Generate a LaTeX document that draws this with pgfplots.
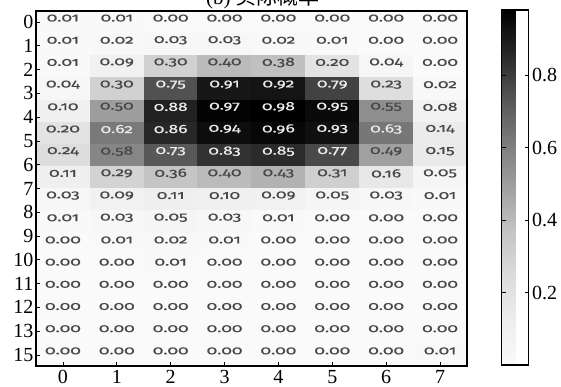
\documentclass[border=0pt]{standalone}
\usepackage{pgfplots}
\pgfplotsset{compat=1.18}
\usepackage{pgfplotstable}
\usepackage{fontspec}
\setmainfont{Liberation Serif}
\newfontfamily\cellfont[Numbers=OldStyle,FakeStretch=1.45,FakeBold=0.4]{Fira Sans}
\newfontfamily\cjk{Noto Sans CJK SC}
\pgfkeys{/pgf/number format/assume math mode=true}
\pgfplotsset{colormap={mygreys}{rgb255=(250,250,250) rgb255=(238,238,238) rgb255=(220,220,220) rgb255=(196,196,196) rgb255=(160,160,160) rgb255=(124,124,124) rgb255=(86,86,86) rgb255=(40,40,40) rgb255=(0,0,0)}}
\pgfplotstableread{
x y v
0 0 0.01
1 0 0.01
2 0 0.00
3 0 0.00
4 0 0.00
5 0 0.00
6 0 0.00
7 0 0.00
0 1 0.01
1 1 0.02
2 1 0.03
3 1 0.03
4 1 0.02
5 1 0.01
6 1 0.00
7 1 0.00
0 2 0.01
1 2 0.09
2 2 0.30
3 2 0.40
4 2 0.38
5 2 0.20
6 2 0.04
7 2 0.00
0 3 0.04
1 3 0.30
2 3 0.75
3 3 0.91
4 3 0.92
5 3 0.79
6 3 0.23
7 3 0.02
0 4 0.10
1 4 0.50
2 4 0.88
3 4 0.97
4 4 0.98
5 4 0.95
6 4 0.55
7 4 0.08
0 5 0.20
1 5 0.62
2 5 0.86
3 5 0.94
4 5 0.96
5 5 0.93
6 5 0.63
7 5 0.14
0 6 0.24
1 6 0.58
2 6 0.73
3 6 0.83
4 6 0.85
5 6 0.77
6 6 0.49
7 6 0.15
0 7 0.11
1 7 0.29
2 7 0.36
3 7 0.40
4 7 0.43
5 7 0.31
6 7 0.16
7 7 0.05
0 8 0.03
1 8 0.09
2 8 0.11
3 8 0.10
4 8 0.09
5 8 0.05
6 8 0.03
7 8 0.01
0 9 0.01
1 9 0.03
2 9 0.05
3 9 0.03
4 9 0.01
5 9 0.00
6 9 0.00
7 9 0.00
0 10 0.00
1 10 0.01
2 10 0.02
3 10 0.01
4 10 0.00
5 10 0.00
6 10 0.00
7 10 0.00
0 11 0.00
1 11 0.00
2 11 0.01
3 11 0.00
4 11 0.00
5 11 0.00
6 11 0.00
7 11 0.00
0 12 0.00
1 12 0.00
2 12 0.00
3 12 0.00
4 12 0.00
5 12 0.00
6 12 0.00
7 12 0.00
0 13 0.00
1 13 0.00
2 13 0.00
3 13 0.00
4 13 0.00
5 13 0.00
6 13 0.00
7 13 0.00
0 14 0.00
1 14 0.00
2 14 0.00
3 14 0.00
4 14 0.00
5 14 0.00
6 14 0.00
7 14 0.00
0 15 0.00
1 15 0.00
2 15 0.00
3 15 0.00
4 15 0.00
5 15 0.00
6 15 0.00
7 15 0.01
}\hm
\begin{document}
\begin{tikzpicture}
\useasboundingbox (-36pt,-21pt) rectangle (525pt,366pt);
\begin{axis}[
  at={(0pt,0pt)}, anchor=south west,
  scale only axis, width=431pt, height=355pt,
  xmin=-0.5, xmax=7.5, ymin=-0.5, ymax=15.5, y dir=reverse,
  enlargelimits=false, axis on top,
  xtick={0,...,7},
  ytick={0,1.0714,2.1429,3.2143,4.2857,5.3571,6.4286,7.5,8.5714,9.6429,10.7143,11.7857,12.8571,13.9286,15},
  yticklabels={0,1,2,3,4,5,6,7,8,9,10,11,12,13,15},
  xtick pos=bottom, ytick pos=left, tick align=inside,
  major tick length=4pt,
  every tick/.style={black, line width=0.8pt},
  axis line style={line width=1.3pt},
  tick label style={font=\fontsize{20}{20}\selectfont},
  xticklabel style={yshift=-1pt},
  yticklabel style={xshift=1pt},
  colormap name=mygreys,
  point meta min=0, point meta max=0.98,
  colorbar,
  colorbar style={
    at={(parent axis.north east)}, anchor=north west,
    xshift=26pt, yshift=1pt,
    scale only axis, width=27pt, height=355pt,
    ytick={0.2,0.4,0.6,0.8},
    yticklabel style={font=\fontsize{20}{20}\selectfont,
      /pgf/number format/fixed, /pgf/number format/precision=1},
    axis line style={line width=1.3pt},
    major tick length=4pt,
    every tick/.style={black, line width=0.8pt},
  },
]
\addplot[matrix plot*, mesh/cols=8, point meta=explicit] table[x=x, y=y, meta=v]{\hm};
\addplot[only marks, mark=*, mark size=0pt, mark options={draw=none, fill=none},
  point meta=explicit symbolic,
  nodes near coords={\ifdim\pgfplotspointmeta pt>0.6pt\color{white!92!black}\else\color{black!72}\fi\pgfplotspointmeta},
  every node near coord/.append style={anchor=center, yshift=4pt, inner sep=0pt,
    font=\cellfont\fontsize{12}{12}\selectfont}]
  table[x=x, y=y, meta=v]{\hm};
\end{axis}
\node[anchor=base, font=\fontsize{21}{21}\selectfont] at (227pt,361pt) {(b) {\cjk 实际概率}};
\end{tikzpicture}
\end{document}
